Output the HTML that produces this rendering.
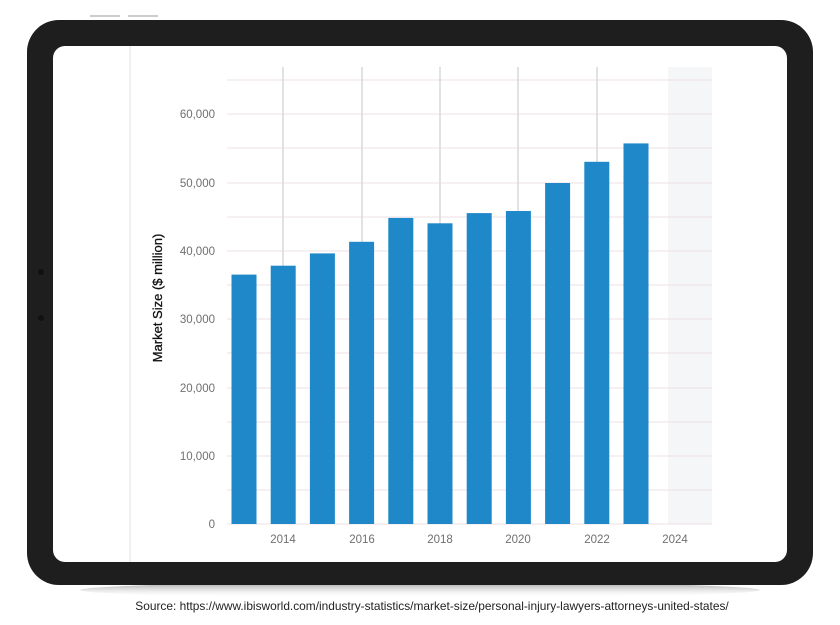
<!DOCTYPE html>
<html><head><meta charset="utf-8"><style>
html,body{margin:0;padding:0;background:#fff;width:840px;height:625px;overflow:hidden}
</style></head><body>
<svg width="840" height="625" viewBox="0 0 840 625" xmlns="http://www.w3.org/2000/svg" font-family="Liberation Sans, sans-serif">
<defs>
<linearGradient id="sh" x1="0" y1="0" x2="0" y2="1"><stop offset="0" stop-color="#555" stop-opacity="0.6"/><stop offset="1" stop-color="#fff" stop-opacity="0"/></linearGradient>
</defs>
<rect x="90" y="15" width="30" height="2" fill="#ccc"/>
<rect x="128" y="15" width="30" height="2" fill="#ccc"/>
<ellipse cx="420" cy="590" rx="340" ry="8" fill="url(#sh)"/>
<rect x="27" y="20" width="786" height="565" rx="32" fill="#1e1e1e"/>
<rect x="53" y="46" width="734" height="516" rx="12" fill="#fff"/>
<circle cx="41" cy="272" r="3" fill="#111"/>
<circle cx="41" cy="318" r="3" fill="#111"/>
<line x1="130" y1="46" x2="130" y2="562" stroke="#eef0f4" stroke-width="2"/>
<rect x="668" y="67" width="44" height="457" fill="#f5f6f8"/>
<g stroke="#eee0e4" stroke-width="1">
<line x1="227" y1="80" x2="712" y2="80"/><line x1="227" y1="114" x2="712" y2="114"/>
<line x1="227" y1="148" x2="712" y2="148"/><line x1="227" y1="183" x2="712" y2="183"/>
<line x1="227" y1="217" x2="712" y2="217"/><line x1="227" y1="251" x2="712" y2="251"/>
<line x1="227" y1="285" x2="712" y2="285"/><line x1="227" y1="319" x2="712" y2="319"/>
<line x1="227" y1="353" x2="712" y2="353"/><line x1="227" y1="388" x2="712" y2="388"/>
<line x1="227" y1="422" x2="712" y2="422"/><line x1="227" y1="456" x2="712" y2="456"/>
<line x1="227" y1="490" x2="712" y2="490"/><line x1="227" y1="524" x2="712" y2="524"/>
</g>
<g stroke="#d8d8d8" stroke-width="1.5">
<line x1="283" y1="67" x2="283" y2="524"/><line x1="362" y1="67" x2="362" y2="524"/>
<line x1="440" y1="67" x2="440" y2="524"/><line x1="518" y1="67" x2="518" y2="524"/>
<line x1="597" y1="67" x2="597" y2="524"/>
</g>
<g fill="#1e88c8">
<rect x="231.5" y="274.6" width="25" height="249.4"/>
<rect x="270.7" y="265.7" width="25" height="258.3"/>
<rect x="309.9" y="253.4" width="25" height="270.6"/>
<rect x="349.1" y="241.8" width="25" height="282.2"/>
<rect x="388.3" y="217.9" width="25" height="306.1"/>
<rect x="427.5" y="223.3" width="25" height="300.7"/>
<rect x="466.7" y="213.1" width="25" height="310.9"/>
<rect x="505.9" y="211" width="25" height="313"/>
<rect x="545.1" y="183" width="25" height="341"/>
<rect x="584.3" y="161.8" width="25" height="362.2"/>
<rect x="623.5" y="143.4" width="25" height="380.6"/>
</g>
<g fill="#6f6f6f" font-size="11.5" text-anchor="end">
<text x="215" y="118">60,000</text><text x="215" y="187">50,000</text>
<text x="215" y="255">40,000</text><text x="215" y="323">30,000</text>
<text x="215" y="392">20,000</text><text x="215" y="460">10,000</text>
<text x="215" y="528">0</text>
</g>
<g fill="#6f6f6f" font-size="11.5" text-anchor="middle">
<text x="283" y="543">2014</text><text x="362" y="543">2016</text>
<text x="440" y="543">2018</text><text x="518" y="543">2020</text>
<text x="597" y="543">2022</text><text x="675" y="543">2024</text>
</g>
<text transform="translate(162,298) rotate(-90)" text-anchor="middle" font-size="13" fill="#111" stroke="#111" stroke-width="0.3">Market Size ($ million)</text>
<text x="432" y="610" text-anchor="middle" font-size="11.9" fill="#222">Source: https://www.ibisworld.com/industry-statistics/market-size/personal-injury-lawyers-attorneys-united-states/</text>
</svg>
</body></html>
